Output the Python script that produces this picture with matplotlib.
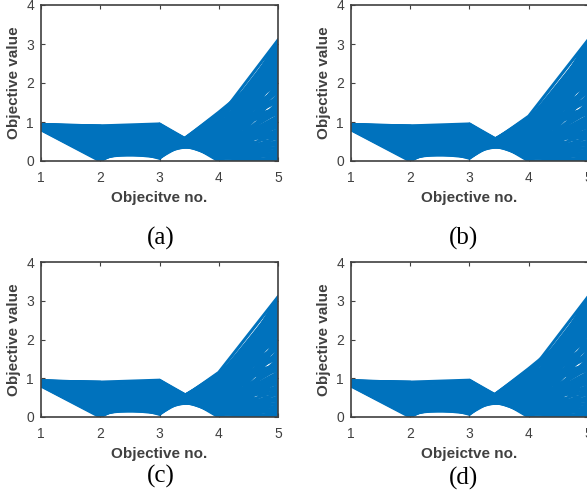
import matplotlib
matplotlib.use("Agg")
import matplotlib.pyplot as plt

plt.rcParams["font.family"] = ["Liberation Sans", "DejaVu Sans"]

# objective values of each solution (one entry per solution, five objectives)
f1 = [0.90, 0.88, 0.86, 0.92, 0.84, 0.87, 0.89, 0.91, 0.85, 0.93,
      0.83, 0.86, 0.88, 0.90, 0.92, 0.84, 0.89, 0.93, 0.87, 0.91, 0.85, 0.93,
      0.80, 0.93, 0.82, 0.86, 0.88, 0.90, 0.93, 0.84, 0.91, 0.87, 0.92, 0.83, 0.89, 0.93,
      0.81, 0.86, 0.90, 0.92, 0.85, 0.88, 0.93, 0.83, 0.91, 0.87, 0.93, 0.89,
      0.86, 0.90, 0.88, 0.92, 0.84, 0.89, 0.93, 0.85, 0.87, 0.91, 0.83, 0.93,
      0.88, 0.90, 0.86, 0.93, 0.82, 0.89, 0.92, 0.87, 0.91, 0.84, 0.93, 0.86,
      0.87, 0.90, 0.85, 0.92, 0.88, 0.86, 0.91, 0.89, 0.84, 0.93, 0.87, 0.90, 0.86, 0.92,
      0.85, 0.89, 0.88, 0.91]
f2 = [0.47, 0.40, 0.62, 0.80, 0.30, 0.55, 0.25, 0.70, 0.15, 0.88,
      0.10, 0.05, 0.35, 0.60, 0.85, 0.20, 0.50, 0.75, 0.40, 0.65, 0.12, 0.90,
      0.00, 0.90, 0.03, 0.30, 0.45, 0.60, 0.88, 0.18, 0.70, 0.25, 0.80, 0.08, 0.52, 0.65,
      0.02, 0.08, 0.35, 0.78, 0.22, 0.48, 0.86, 0.14, 0.58, 0.38, 0.72, 0.42,
      0.28, 0.55, 0.33, 0.82, 0.06, 0.62, 0.89, 0.20, 0.45, 0.68, 0.10, 0.76,
      0.36, 0.52, 0.16, 0.84, 0.04, 0.57, 0.74, 0.32, 0.64, 0.24, 0.87, 0.44,
      0.50, 0.58, 0.26, 0.70, 0.34, 0.12, 0.66, 0.46, 0.18, 0.80, 0.38, 0.54, 0.30, 0.78,
      0.22, 0.60, 0.40, 0.63]
f3 = [0.07, 0.12, 0.08, 0.10, 0.11, 0.09, 0.10, 0.13, 0.15, 0.14,
      0.25, 0.45, 0.35, 0.22, 0.30, 0.40, 0.28, 0.45, 0.50, 0.38, 0.33, 0.20,
      0.80, 0.95, 0.65, 0.90, 0.70, 0.60, 0.85, 0.75, 0.94, 0.55, 0.80, 0.92, 0.85, 0.52,
      0.70, 0.35, 0.18, 0.62, 0.13, 0.42, 0.72, 0.60, 0.25, 0.78, 0.16, 0.50,
      0.20, 0.12, 0.40, 0.58, 0.85, 0.30, 0.90, 0.65, 0.15, 0.48, 0.55, 0.34,
      0.94, 0.20, 0.28, 0.66, 0.75, 0.44, 0.11, 0.68, 0.82, 0.36, 0.24, 0.62,
      0.75, 0.40, 0.18, 0.88, 0.52, 0.26, 0.14, 0.68, 0.46, 0.30, 0.22, 0.58, 0.90, 0.36,
      0.85, 0.92, 0.64, 0.26]

# panels (a) and (d)
f4_ad = [1.25, 1.10, 1.20, 1.15, 1.05, 0.95, 1.00, 0.90, 0.80, 0.85,
         0.50, 0.30, 0.35, 0.70, 0.60, 0.45, 0.75, 0.55, 0.20, 0.62, 0.68, 1.00,
         0.05, 0.08, 0.15, 0.00, 0.07, 0.12, 0.10, 0.20, 0.03, 0.30, 0.18, 0.10, 0.15, 0.40,
         0.25, 0.85, 0.65, 0.35, 1.18, 0.50, 0.25, 0.28, 0.85, 0.10, 1.08, 0.38,
         0.78, 1.12, 0.55, 0.30, 0.12, 0.92, 0.05, 0.22, 0.98, 0.45, 0.35, 0.72,
         0.02, 1.05, 0.58, 0.28, 0.18, 0.60, 1.22, 0.16, 0.14, 0.50, 0.88, 0.26,
         0.20, 0.60, 0.90, 0.04, 0.40, 0.75, 1.02, 0.12, 0.50, 0.80, 0.95, 0.32, 0.08, 0.66,
         0.06, 0.10, 0.24, 0.82]
f5_ad = [2.50, 3.10, 2.00, 1.20, 2.80, 0.40, 1.60, 2.40, 3.00, 0.90,
         1.90, 2.20, 0.10, 2.70, 1.40, 2.90, 0.70, 2.30, 1.10, 3.05, 0.30, 1.80,
         1.00, 0.60, 2.60, 0.05, 1.50, 0.20, 2.00, 0.80, 2.90, 1.30, 0.50, 1.70, 3.00, 2.50,
         0.15, 2.00, 2.80, 1.00, 1.50, 0.40, 2.20, 2.40, 1.20, 0.90, 2.60, 1.80,
         0.55, 2.25, 2.65, 1.65, 2.75, 1.35, 2.35, 0.35, 2.95, 0.75, 1.25, 2.10,
         1.45, 0.65, 3.08, 0.25, 1.85, 2.55, 1.95, 3.02, 1.05, 0.02, 2.70, 2.15,
         0.12, 0.08, 0.18, 0.50, 0.45, 0.95, 1.30, 0.70, 1.60, 0.60, 1.75, 1.15, 0.28, 0.85,
         0.14, 0.03, 1.40, 1.52]

# panels (b) and (c)
f4_bc = [1.15, 1.05, 1.10, 1.08, 1.05, 0.95, 1.00, 0.90, 0.80, 0.85,
         0.50, 0.30, 0.35, 0.70, 0.60, 0.45, 0.75, 0.55, 0.20, 0.62, 0.68, 1.00,
         0.05, 0.08, 0.15, 0.00, 0.07, 0.12, 0.10, 0.20, 0.03, 0.30, 0.18, 0.10, 0.15, 0.40,
         0.25, 0.85, 0.65, 0.35, 1.12, 0.50, 0.25, 0.28, 0.85, 0.10, 1.08, 0.38,
         0.78, 1.08, 0.55, 0.30, 0.12, 0.92, 0.05, 0.22, 0.98, 0.45, 0.35, 0.72,
         0.02, 1.05, 0.58, 0.28, 0.18, 0.60, 1.10, 0.16, 0.14, 0.50, 0.88, 0.26,
         0.20, 0.60, 0.90, 0.04, 0.40, 0.75, 1.02, 0.12, 0.50, 0.80, 0.95, 0.32, 0.08, 0.66,
         0.06, 0.10, 0.24, 0.82]
f5_bc = [3.10, 2.90, 2.00, 1.20, 2.80, 0.40, 1.60, 2.40, 3.00, 0.90,
         1.90, 2.20, 0.10, 2.70, 1.40, 2.90, 0.70, 2.30, 1.10, 3.05, 0.30, 1.80,
         1.00, 0.60, 2.60, 0.05, 1.50, 0.20, 2.00, 0.80, 2.90, 1.30, 0.50, 1.70, 3.00, 2.50,
         0.15, 2.00, 2.80, 1.00, 1.50, 0.40, 2.20, 2.40, 1.20, 0.90, 2.60, 1.80,
         0.55, 2.25, 2.65, 1.65, 2.75, 1.35, 2.35, 0.35, 2.95, 0.75, 1.25, 2.10,
         1.45, 0.65, 3.08, 0.25, 1.85, 2.55, 1.95, 3.02, 1.05, 0.02, 2.70, 2.15,
         0.12, 0.08, 0.18, 0.50, 0.45, 0.95, 1.30, 0.70, 1.60, 0.60, 1.75, 1.15, 0.28, 0.85,
         0.14, 0.03, 1.40, 1.52]

objectives = [1, 2, 3, 4, 5]
xlabels = ["Objecitve no.", "Objective no.", "Objective no.", "Objeictve no."]
captions = ["(a)", "(b)", "(c)", "(d)"]

W, H = 587, 497
fig = plt.figure(figsize=(W / 100, H / 100), dpi=100)

# axes boxes in pixels: left, top, width, height
boxes = [(41, 5, 237, 156), (351, 5, 237, 156), (41, 262, 237, 155), (351, 262, 237, 155)]
caption_pos = [(161, 238), (464, 238), (161, 476), (464, 478)]
data = [(f4_ad, f5_ad), (f4_bc, f5_bc), (f4_bc, f5_bc), (f4_ad, f5_ad)]

grey = "#404040"
blue = "#0072BD"

for k in range(4):
    l, t, w, h = boxes[k]
    ax = fig.add_axes([l / W, 1 - (t + h) / H, w / W, h / H])
    f4, f5 = data[k]
    for i in range(len(f1)):
        ax.plot(objectives, [f1[i], f2[i], f3[i], f4[i], f5[i]],
                color=blue, lw=2.2, solid_joinstyle="miter")
    ax.set_xlim(1, 5)
    ax.set_ylim(0, 4)
    ax.set_xticks([1, 2, 3, 4, 5])
    ax.set_yticks([0, 1, 2, 3, 4])
    ax.tick_params(direction="in", length=3, width=0.8, colors=grey,
                   labelsize=10, top=True, right=True)
    ax.tick_params(axis="x", pad=7)
    ax.tick_params(axis="y", pad=5)
    for sp in ax.spines.values():
        sp.set_color(grey)
        sp.set_linewidth(1.2)
    ax.set_xlabel(xlabels[k], fontsize=11, fontweight="bold", color=grey)
    ax.xaxis.set_label_coords(0.5, -37 / h)
    ax.xaxis.label.set_va("center")
    ax.set_ylabel("Objective value", fontsize=11, fontweight="bold", color=grey)
    ax.yaxis.set_label_coords(-27 / w, 0.5)
    ax.yaxis.label.set_va("center")
    cx, cy = caption_pos[k]
    fig.text(cx / W, 1 - cy / H, captions[k], ha="center", va="center",
             fontsize=18, family="Liberation Serif")

fig.savefig("out.png", dpi=100)
